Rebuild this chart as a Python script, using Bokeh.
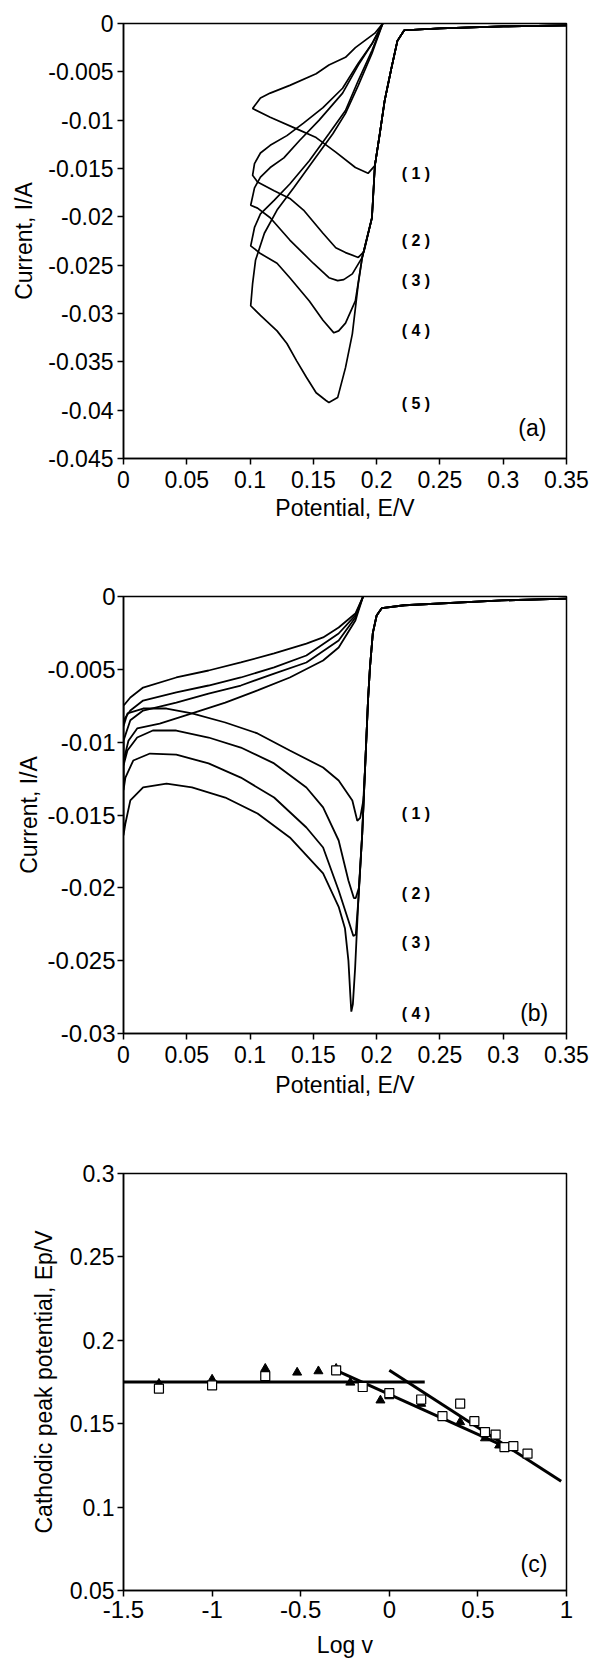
from bokeh.plotting import figure
from bokeh.layouts import column
from bokeh.models import Range1d, FixedTicker
from bokeh.core.properties import value
from bokeh.embed import file_html
from bokeh.resources import INLINE

FONT = "Liberation Sans"

# ---------------- Panel (a) data: potential E/V, current I/A ----------------
a_top_e = [0.35, 0.30, 0.25, 0.2218, 0.2164, 0.2117, 0.2063, 0.2025, 0.1986]
a_top_i = [-0.0002, -0.0003, -0.0005, -0.0007, -0.0018, -0.0046, -0.0080, -0.0114, -0.0147]

a1_e = [0.1932, 0.1832, 0.1677, 0.1522, 0.1368, 0.1159, 0.1020,
        0.1082, 0.1159, 0.1314, 0.1522, 0.1623, 0.1754, 0.1832, 0.1986, 0.2048]
a1_i = [-0.0155, -0.0149, -0.0133, -0.0118, -0.0109, -0.0097, -0.0088,
        -0.0077, -0.0072, -0.0064, -0.0052, -0.0043, -0.0035, -0.0025, -0.0010, 0.0]

a2_e = [0.1963, 0.1900, 0.1855, 0.1754, 0.1677, 0.1576, 0.1422, 0.1314, 0.1190, 0.1059, 0.1020,
        0.1035, 0.1082, 0.1159, 0.1291, 0.1422, 0.1576, 0.1731, 0.1855, 0.1963, 0.2048]
a2_i = [-0.0201, -0.0236, -0.0242, -0.0237, -0.0232, -0.0217, -0.0193, -0.0181, -0.0173, -0.0164, -0.0157,
        -0.0145, -0.0134, -0.0126, -0.0116, -0.0103, -0.0087, -0.0067, -0.0041, -0.0021, 0.0]

a3_e = [0.1963, 0.1886, 0.1808, 0.1740, 0.1692, 0.1623, 0.1499, 0.1314, 0.1159, 0.1059, 0.1005,
        0.1035, 0.1082, 0.1159, 0.1267, 0.1391, 0.1546, 0.1731, 0.1855, 0.1963, 0.2048]
a3_i = [-0.0201, -0.0242, -0.0259, -0.0265, -0.0266, -0.0263, -0.0248, -0.0224, -0.0201, -0.0191, -0.0188,
        -0.0170, -0.0159, -0.0149, -0.0139, -0.0121, -0.0100, -0.0072, -0.0043, -0.0021, 0.0]

a4_e = [0.1963, 0.1886, 0.1832, 0.1754, 0.1700, 0.1662, 0.1576, 0.1468, 0.1314, 0.1213, 0.1082, 0.1005,
        0.1035, 0.1082, 0.1190, 0.1314, 0.1468, 0.1623, 0.1754, 0.1855, 0.1963, 0.2048]
a4_i = [-0.0201, -0.0242, -0.0287, -0.0310, -0.0318, -0.0320, -0.0307, -0.0287, -0.0263, -0.0248, -0.0238, -0.0230,
        -0.0211, -0.0197, -0.0183, -0.0166, -0.0142, -0.0114, -0.0090, -0.0059, -0.0028, 0.0]

a5_e = [0.1963, 0.1886, 0.1855, 0.1808, 0.1754, 0.1692, 0.1623, 0.1600, 0.1522, 0.1445, 0.1368, 0.1291,
        0.1213, 0.1082, 0.1005,
        0.1020, 0.1043, 0.1113, 0.1213, 0.1345, 0.1499, 0.1654, 0.1754, 0.1855, 0.1963, 0.2048]
a5_i = [-0.0201, -0.0242, -0.0269, -0.0321, -0.0356, -0.0387, -0.0392, -0.0390, -0.0382, -0.0366, -0.0349, -0.0331,
        -0.0318, -0.0302, -0.0292,
        -0.0269, -0.0245, -0.0217, -0.0193, -0.0170, -0.0142, -0.0114, -0.0093, -0.0064, -0.0031, 0.0]

a_lab_text = ["( 1 )", "( 2 )", "( 3 )", "( 4 )", "( 5 )"]
a_lab_e = [0.231, 0.231, 0.231, 0.231, 0.231]
a_lab_i = [-0.0155, -0.02245, -0.0266, -0.0318, -0.0393]

# ---------------- Panel (b) data ----------------
b_top_e = [0.35, 0.299, 0.222, 0.204, 0.200, 0.197, 0.1947, 0.1932, 0.1909]
b_top_i = [-0.00014, -0.00027, -0.0006, -0.0008, -0.0013, -0.0025, -0.0049, -0.0071, -0.0117]

b1_e = [0.1895, 0.1870, 0.1847, 0.1808, 0.1700, 0.1577, 0.1314, 0.1059, 0.0804, 0.0541, 0.0340, 0.0155, 0.0031, 0.0,
        0.0, 0.0054, 0.0155, 0.0417, 0.0672, 0.0927, 0.1190, 0.1445, 0.1577, 0.1700, 0.1832, 0.1893]
b1_i = [-0.0140, -0.0152, -0.0154, -0.0140, -0.01263, -0.01174, -0.01057, -0.0094, -0.00865, -0.00803, -0.00769, -0.00769, -0.00803, -0.0089,
        -0.0075, -0.00693, -0.00625, -0.00556, -0.00508, -0.00453, -0.00391, -0.00323, -0.00281, -0.00213, -0.00117, 0.0]

b2_e = [0.1886, 0.1860, 0.1835, 0.1820, 0.1777, 0.1700, 0.1577, 0.1445, 0.1190, 0.0927, 0.0672, 0.0417, 0.0232, 0.0108, 0.0031, 0.0,
        0.0, 0.0054, 0.0155, 0.0417, 0.0672, 0.0927, 0.1190, 0.1445, 0.1700, 0.1832, 0.1893]
b2_i = [-0.0163, -0.0200, -0.0207, -0.0207, -0.0195, -0.01675, -0.01448, -0.01311, -0.01146, -0.01037, -0.00968, -0.0092, -0.0092, -0.00968, -0.01057, -0.0116,
        -0.0085, -0.00783, -0.00714, -0.00659, -0.00611, -0.00556, -0.00487, -0.00405, -0.00254, -0.0013, 0.0]

b3_e = [0.1886, 0.1855, 0.1835, 0.1816, 0.1777, 0.1700, 0.1577, 0.1445, 0.1190, 0.0927, 0.0672, 0.0417, 0.0209, 0.0077, 0.0015, 0.0,
        0.0, 0.0054, 0.0155, 0.0417, 0.0672, 0.0927, 0.1190, 0.1445, 0.1700, 0.1832, 0.1893]
b3_i = [-0.0163, -0.0209, -0.0232, -0.0233, -0.02224, -0.02018, -0.01723, -0.01586, -0.0138, -0.01243, -0.01146, -0.01085, -0.01078, -0.01126, -0.01243, -0.0133,
        -0.0099, -0.0085, -0.00783, -0.00728, -0.00666, -0.00611, -0.00529, -0.00453, -0.00302, -0.00144, 0.0]

b4_e = [0.1886, 0.1855, 0.1830, 0.1812, 0.1800, 0.1793, 0.1777, 0.1750, 0.1700, 0.1577, 0.1314, 0.1059, 0.0804, 0.0541, 0.0340, 0.0155, 0.0054, 0.0015, 0.0,
        0.0, 0.0039, 0.0108, 0.0286, 0.0541, 0.0804, 0.1059, 0.1314, 0.1577, 0.1700, 0.1832, 0.1893]
b4_i = [-0.0163, -0.0209, -0.0255, -0.0280, -0.0285, -0.0275, -0.0250, -0.0228, -0.0213, -0.0190, -0.01654, -0.0149, -0.0138, -0.01311, -0.01284, -0.01311, -0.0140, -0.01558, -0.0164,
        -0.0113, -0.0099, -0.00906, -0.00872, -0.00803, -0.00728, -0.00645, -0.00556, -0.00439, -0.0035, -0.00165, 0.0]

b_lab_text = ["( 1 )", "( 2 )", "( 3 )", "( 4 )"]
b_lab_e = [0.231, 0.231, 0.231, 0.231]
b_lab_i = [-0.0149, -0.0204, -0.02375, -0.0286]

# ---------------- Panel (c) data: log v vs cathodic peak potential ----------------
sq_logv = [-1.30, -1.00, -0.70, -0.30, -0.15, 0.00, 0.18, 0.30, 0.40, 0.48, 0.54, 0.60, 0.65, 0.70, 0.78]
sq_ep = [0.171, 0.173, 0.1785, 0.182, 0.172, 0.1683, 0.1645, 0.1545, 0.162, 0.1515, 0.145, 0.1435, 0.136, 0.1365, 0.132]
tri_logv = [-1.30, -1.00, -0.70, -0.52, -0.40, -0.30, -0.22, -0.05, 0.00, 0.18, 0.40, 0.54, 0.62]
tri_ep = [0.174, 0.1765, 0.183, 0.1807, 0.1815, 0.183, 0.1747, 0.164, 0.1665, 0.162, 0.151, 0.1413, 0.137]
fit_flat_x = [-1.5, 0.2]
fit_flat_y = [0.175, 0.175]
fit1_x = [-0.30, 0.70]
fit1_y = [0.182, 0.134]
fit2_x = [0.0, 0.97]
fit2_y = [0.182, 0.1155]

# ---------------- ticks ----------------
e_ticks = [0, 0.05, 0.1, 0.15, 0.2, 0.25, 0.3, 0.35]
e_labels = ["0", "0.05", "0.1", "0.15", "0.2", "0.25", "0.3", "0.35"]
ia_ticks = [0, -0.005, -0.01, -0.015, -0.02, -0.025, -0.03, -0.035, -0.04, -0.045]
ia_labels = ["0", "-0.005", "-0.01", "-0.015", "-0.02", "-0.025", "-0.03", "-0.035", "-0.04", "-0.045"]
ib_ticks = [0, -0.005, -0.01, -0.015, -0.02, -0.025, -0.03]
ib_labels = ["0", "-0.005", "-0.01", "-0.015", "-0.02", "-0.025", "-0.03"]
lv_ticks = [-1.5, -1, -0.5, 0, 0.5, 1]
lv_labels = ["-1.5", "-1", "-0.5", "0", "0.5", "1"]
ep_ticks = [0.05, 0.1, 0.15, 0.2, 0.25, 0.3]
ep_labels = ["0.05", "0.1", "0.15", "0.2", "0.25", "0.3"]


def style(p, xt, xl, yt, yl, xfs, yfs, xlab, ylab,
          y_lab_standoff, y_tick_standoff, x_lab_standoff, x_tick_standoff):
    p.xgrid.visible = False
    p.ygrid.visible = False
    p.background_fill_color = "white"
    p.border_fill_color = "white"
    p.outline_line_color = "black"
    p.outline_line_width = 1.5
    p.xaxis.ticker = FixedTicker(ticks=xt)
    p.xaxis.major_label_overrides = dict(zip(xt, xl))
    p.yaxis.ticker = FixedTicker(ticks=yt)
    p.yaxis.major_label_overrides = dict(zip(yt, yl))
    p.xaxis.major_label_text_font_size = xfs
    p.yaxis.major_label_text_font_size = yfs
    p.xaxis.axis_label = xlab
    p.yaxis.axis_label = ylab
    p.yaxis.axis_label_standoff = y_lab_standoff
    p.yaxis.major_label_standoff = y_tick_standoff
    p.xaxis.axis_label_standoff = x_lab_standoff
    p.xaxis.major_label_standoff = x_tick_standoff
    for ax in (p.xaxis[0], p.yaxis[0]):
        ax.minor_tick_line_color = None
        ax.major_tick_in = 0
        ax.major_tick_out = 6
        ax.major_tick_line_width = 1.5
        ax.major_tick_line_color = "black"
        ax.axis_line_width = 1.5
        ax.axis_line_color = "black"
        ax.major_label_text_font = FONT
        ax.major_label_text_color = "black"
        ax.axis_label_text_font = FONT
        ax.axis_label_text_font_size = "23px"
        ax.axis_label_text_font_style = "normal"
        ax.axis_label_text_color = "black"


# ---------------- figure (a) ----------------
pa = figure(width=598, height=526, x_range=Range1d(0, 0.35), y_range=Range1d(-0.045, 0),
            output_backend="svg", toolbar_location=None,
            min_border_left=123, min_border_right=22, min_border_top=23, min_border_bottom=68)
style(pa, e_ticks, e_labels, ia_ticks, ia_labels, "23px", "23px", "Potential, E/V", "Current, I/A",
      8, 4, 4, 6)
for ce, ci in [(a1_e, a1_i), (a2_e, a2_i), (a3_e, a3_i), (a4_e, a4_i), (a5_e, a5_i)]:
    pa.line(a_top_e + ce, a_top_i + ci, line_color="black", line_width=1.7)
pa.text(a_lab_e, a_lab_i, text=a_lab_text, text_font=value(FONT), text_font_size="16px",
        text_font_style="bold", text_align="center", text_baseline="middle", text_color="black")
pa.text([0.323], [-0.0418], text=["(a)"], text_font=value(FONT), text_font_size="23px",
        text_align="center", text_baseline="middle", text_color="black")

# ---------------- figure (b) ----------------
pb = figure(width=598, height=577, x_range=Range1d(0, 0.35), y_range=Range1d(-0.03, 0),
            output_backend="svg", toolbar_location=None,
            min_border_left=114, min_border_right=32, min_border_top=70, min_border_bottom=70)
style(pb, e_ticks, e_labels, ib_ticks, ib_labels, "23px", "24px", "Potential, E/V", "Current, I/A",
      2, 2, 6, 6)
for ce, ci in [(b1_e, b1_i), (b2_e, b2_i), (b3_e, b3_i), (b4_e, b4_i)]:
    pb.line(b_top_e + ce, b_top_i + ci, line_color="black", line_width=1.8)
pb.text(b_lab_e, b_lab_i, text=b_lab_text, text_font=value(FONT), text_font_size="16px",
        text_font_style="bold", text_align="center", text_baseline="middle", text_color="black")
pb.text([0.3245], [-0.0286], text=["(b)"], text_font=value(FONT), text_font_size="23px",
        text_align="center", text_baseline="middle", text_color="black")

# ---------------- figure (c) ----------------
pc = figure(width=598, height=561, x_range=Range1d(-1.5, 1), y_range=Range1d(0.05, 0.3),
            output_backend="svg", toolbar_location=None,
            min_border_left=101, min_border_right=22, min_border_top=70, min_border_bottom=74)
style(pc, lv_ticks, lv_labels, ep_ticks, ep_labels, "24px", "23px", "Log v",
      "Cathodic peak potential, Ep/V", 10, 3, 11, 4)
pc.line(fit_flat_x, fit_flat_y, line_color="black", line_width=3)
pc.line(fit1_x, fit1_y, line_color="black", line_width=3)
pc.line(fit2_x, fit2_y, line_color="black", line_width=3)
pc.scatter(tri_logv, tri_ep, marker="triangle", size=9, fill_color="black", line_color="black")
pc.scatter(sq_logv, sq_ep, marker="square", size=9, fill_color="white", line_color="black", line_width=1.2)
pc.text([0.816], [0.066], text=["(c)"], text_font=value(FONT), text_font_size="23px",
        text_align="center", text_baseline="middle", text_color="black")

layout = column(pa, pb, pc)
open("out.html", "w").write(file_html(layout, INLINE))
